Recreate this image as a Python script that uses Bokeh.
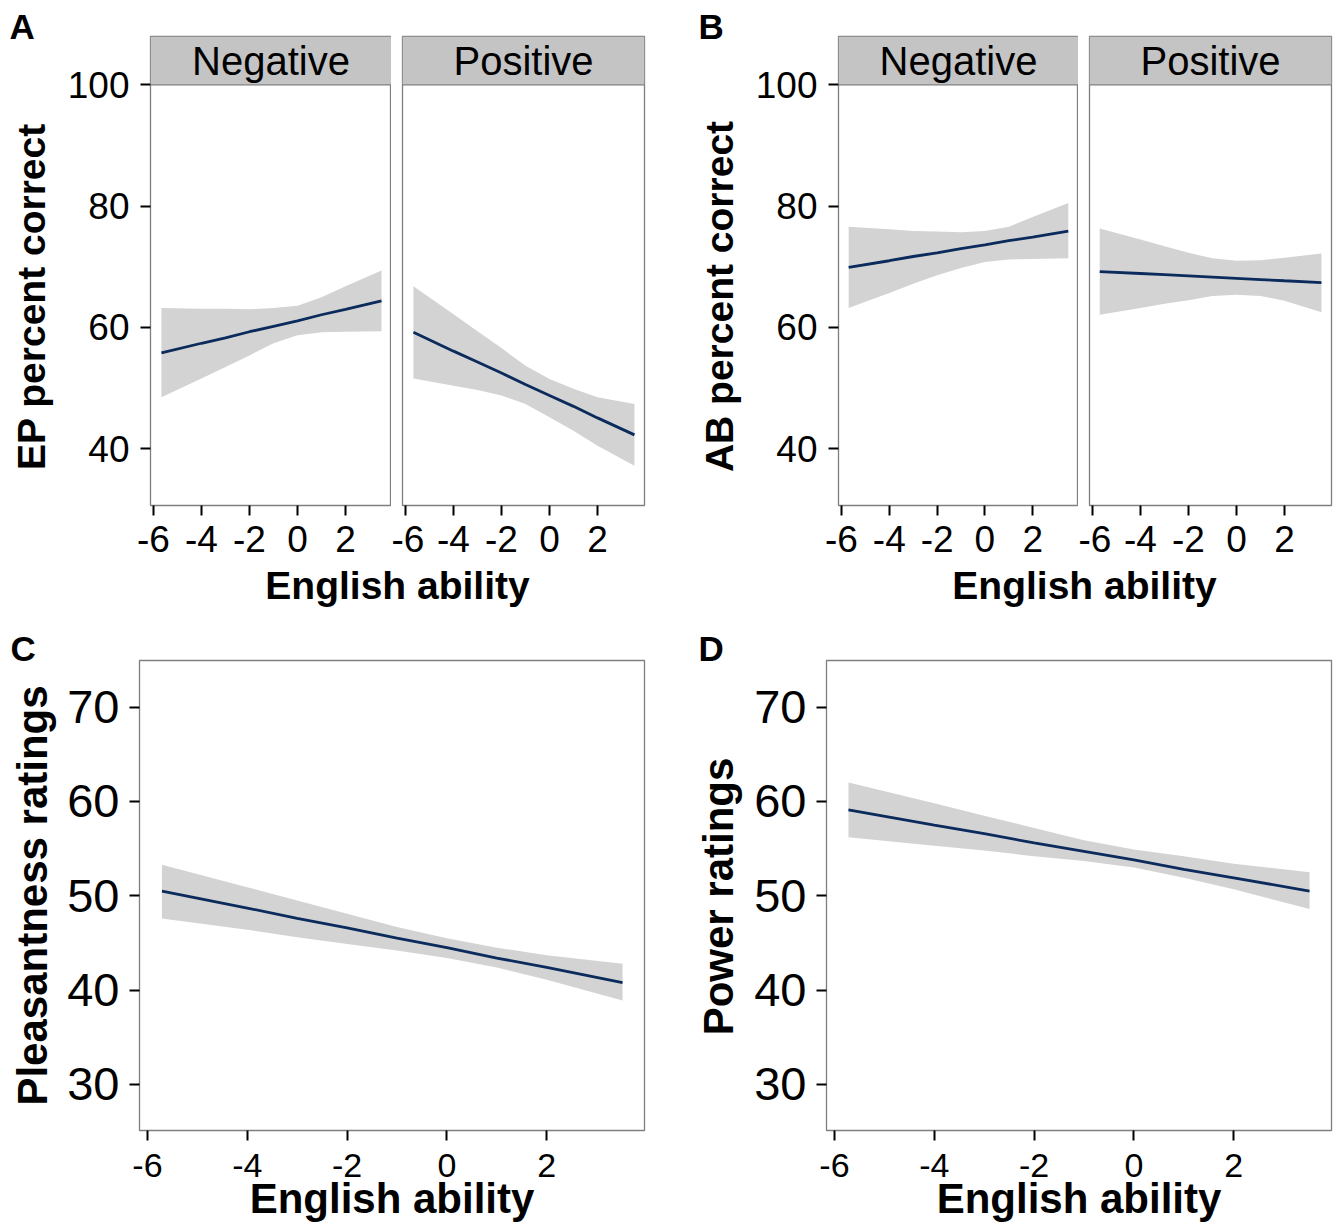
import math
from bokeh.plotting import figure
from bokeh.layouts import row, column
from bokeh.models import (Range1d, FixedTicker, Span, Label, BoxAnnotation,
                          CustomJSTickFormatter)
from bokeh.embed import file_html
from bokeh.resources import INLINE
from bokeh.core.properties import value

# ---------------- data ----------------
facet_names = ["Negative", "Positive"]
facet_x_ticks = [-6, -4, -2, 0, 2]
acc_y_ticks = [40, 60, 80, 100]
rating_x_ticks = [-6, -4, -2, 0, 2]
rating_y_ticks = [30, 40, 50, 60, 70]
x_title = "English ability"
panel_letters = ["A", "B", "C", "D"]
y_titles = ["EP percent correct", "AB percent correct",
            "Pleasantness ratings", "Power ratings"]

# Panel A: EP percent correct
ep_neg_x   = [-5.67, -4, -3, -2, -1, 0, 1, 2, 3.50]
ep_neg_fit = [55.8, 57.4, 58.3, 59.3, 60.2, 61.1, 62.1, 63.0, 64.4]
ep_neg_hi  = [63.2, 63.1, 63.1, 63.0, 63.2, 63.6, 65.0, 66.8, 69.4]
ep_neg_lo  = [48.5, 51.6, 53.5, 55.4, 57.4, 58.7, 59.2, 59.3, 59.4]

ep_pos_x   = [-5.67, -4, -3, -2, -1, 0, 1, 2, 3.54]
ep_pos_fit = [59.2, 56.1, 54.3, 52.5, 50.6, 48.8, 47.0, 45.1, 42.3]
ep_pos_hi  = [66.8, 62.2, 59.4, 56.6, 53.7, 51.5, 49.9, 48.5, 47.4]
ep_pos_lo  = [51.6, 50.4, 49.7, 48.8, 47.4, 45.2, 43.0, 40.5, 37.2]

# Panel B: AB percent correct
ab_neg_x   = [-5.70, -4, -3, -2, -1, 0, 1, 2, 3.49]
ab_neg_fit = [69.9, 71.0, 71.7, 72.3, 73.0, 73.6, 74.3, 74.9, 75.9]
ab_neg_hi  = [76.6, 76.2, 75.9, 75.8, 75.7, 75.9, 76.6, 78.2, 80.5]
ab_neg_lo  = [63.2, 65.7, 67.2, 68.6, 69.8, 70.8, 71.2, 71.3, 71.4]

ab_pos_x   = [-5.70, -4, -3, -2, -1, 0, 1, 2, 3.54]
ab_pos_fit = [69.2, 68.9, 68.7, 68.5, 68.3, 68.1, 67.9, 67.7, 67.4]
ab_pos_hi  = [76.3, 74.5, 73.4, 72.3, 71.4, 71.0, 71.1, 71.5, 72.2]
ab_pos_lo  = [62.1, 63.2, 63.9, 64.5, 65.2, 65.4, 65.2, 64.4, 62.5]

# Panel C: Pleasantness ratings
pl_x   = [-5.71, -4, -3, -2, -1, 0, 1, 2, 3.52]
pl_fit = [50.5, 48.7, 47.6, 46.6, 45.5, 44.5, 43.4, 42.4, 40.8]
pl_hi  = [53.3, 50.9, 49.5, 48.1, 46.7, 45.5, 44.5, 43.7, 42.8]
pl_lo  = [47.6, 46.4, 45.6, 44.9, 44.2, 43.4, 42.4, 41.1, 38.9]

# Panel D: Power ratings
pw_x   = [-5.72, -4, -3, -2, -1, 0, 1, 2, 3.52]
pw_fit = [59.1, 57.5, 56.6, 55.6, 54.7, 53.8, 52.8, 51.9, 50.5]
pw_hi  = [62.0, 59.8, 58.5, 57.2, 55.9, 54.9, 54.2, 53.4, 52.5]
pw_lo  = [56.2, 55.3, 54.8, 54.2, 53.7, 53.0, 51.9, 50.7, 48.6]

# ---------------- style / geometry ----------------
FONT = "Liberation Sans"
NAVY = "#0b2b5c"
BAND = "#d3d3d3"
STRIP = "#c4c4c4"
FRAME = "#7f7f7f"

F_TOP, F_H, F_BOT = 36, 469, 56      # facet figures
F_PX = 24.0
F_X0 = -6.125
ACC_Y1 = 107.96
ACC_Y0 = 30.66
XT_H = 50                            # x-title strip under facets
XT_CENTER = 585                      # page y of the x-title centre

FH = F_TOP + F_H + F_BOT
ROW2_Y = FH + XT_H                   # page y where the lower row starts

R_H, R_BOT = 470, 95                 # rating figures
R_TOP = 660 - ROW2_Y
R_X0, R_X1 = -6.16, 3.96
R_Y0, R_Y1 = 25.11, 74.95
RH = R_TOP + R_H + R_BOT

hyphen_fmt = "return String(tick);"


def base_axes(p, xsize, ysize, xstand, ystand):
    p.xgrid.visible = False
    p.ygrid.visible = False
    p.outline_line_color = FRAME
    p.outline_line_width = 1.3
    p.background_fill_color = "white"
    p.border_fill_color = "white"
    for ax in p.axis:
        ax.axis_line_color = None
        ax.major_tick_line_color = "black"
        ax.major_tick_line_width = 2
        ax.major_tick_out = 10
        ax.major_tick_in = 0
        ax.minor_tick_line_color = None
        ax.major_label_text_font = FONT
        ax.major_label_text_color = "black"
        ax.axis_label_text_font = FONT
        ax.axis_label_text_font_style = "bold"
        ax.axis_label_text_color = "black"
    for ax in p.xaxis:
        ax.major_label_text_font_size = xsize
        ax.major_label_standoff = xstand
        ax.formatter = CustomJSTickFormatter(code=hyphen_fmt)
    for ax in p.yaxis:
        ax.major_label_text_font_size = ysize
        ax.major_label_standoff = ystand


def facet(xs, fit, lo, hi, name, bl, fw, br, with_y):
    x1 = F_X0 + fw / F_PX
    p = figure(width=bl + fw + br, height=FH,
               x_range=Range1d(F_X0, x1), y_range=Range1d(ACC_Y0, ACC_Y1),
               output_backend="svg", toolbar_location=None,
               min_border_left=bl, min_border_right=br,
               min_border_top=F_TOP, min_border_bottom=F_BOT,
               y_axis_location="left" if with_y else None)
    p.varea(x=xs, y1=lo, y2=hi, fill_color=BAND, fill_alpha=1.0)
    p.line(xs, fit, line_color=NAVY, line_width=2.8)
    p.xaxis.ticker = FixedTicker(ticks=facet_x_ticks)
    if with_y:
        p.yaxis.ticker = FixedTicker(ticks=acc_y_ticks)
    base_axes(p, "37px", "37px", 10, 11)
    # facet strip
    p.add_layout(BoxAnnotation(bottom=acc_y_ticks[-1], fill_color=STRIP, fill_alpha=1.0,
                               line_color=None))
    p.add_layout(Span(location=acc_y_ticks[-1], dimension="width",
                      line_color=FRAME, line_width=1.3))
    p.add_layout(Label(x=(F_X0 + x1) / 2, y=(acc_y_ticks[-1] + ACC_Y1) / 2, text=name,
                       text_align="center", text_baseline="middle",
                       text_font=FONT, text_font_size="40px", text_color="black"))
    return p


def blank_fig(w, h, bl=0, br=0):
    p = figure(width=w, height=h, x_range=Range1d(0, w - bl - br), y_range=Range1d(0, h),
               output_backend="svg", toolbar_location=None,
               min_border_left=bl, min_border_right=br,
               min_border_top=0, min_border_bottom=0,
               x_axis_location=None, y_axis_location=None)
    p.outline_line_color = None
    p.xgrid.visible = False
    p.ygrid.visible = False
    p.background_fill_color = None
    p.border_fill_color = None
    return p


def xtitle_fig(bl, fw, br):
    p = blank_fig(bl + fw + br, XT_H, bl, br)
    p.text(x=[fw / 2], y=[XT_H - (XT_CENTER - FH)], text=[x_title], text_font=value(FONT),
           text_font_style="bold", text_font_size="39px",
           text_align="center", text_baseline="middle", text_color="black")
    return p


def side_fig(w, h, top_y, letter, lx, ly_page, title, tx, ty_page, tsize):
    p = blank_fig(w, h)
    p.text(x=[lx], y=[h - (ly_page - top_y)], text=[letter], text_font=value(FONT),
           text_font_style="bold", text_font_size="35px",
           text_align="left", text_baseline="middle", text_color="black")
    p.text(x=[tx], y=[h - (ty_page - top_y)], text=[title], angle=math.pi / 2,
           text_font=value(FONT), text_font_style="bold", text_font_size=tsize,
           text_align="center", text_baseline="middle", text_color="black")
    return p


def rating_fig(xs, fit, lo, hi, bl, br):
    fw = 505
    p = figure(width=bl + fw + br, height=RH,
               x_range=Range1d(R_X0, R_X1), y_range=Range1d(R_Y0, R_Y1),
               output_backend="svg", toolbar_location=None,
               min_border_left=bl, min_border_right=br,
               min_border_top=R_TOP, min_border_bottom=R_BOT)
    p.varea(x=xs, y1=lo, y2=hi, fill_color=BAND, fill_alpha=1.0)
    p.line(xs, fit, line_color=NAVY, line_width=2.8)
    p.xaxis.ticker = FixedTicker(ticks=rating_x_ticks)
    p.yaxis.ticker = FixedTicker(ticks=rating_y_ticks)
    base_axes(p, "34px", "47px", 13, 10)
    p.xaxis.axis_label = x_title
    p.xaxis.axis_label_text_font_size = "42px"
    p.xaxis.axis_label_standoff = -5
    return p


# ---- top row: panels A and B ----
sideA = side_fig(64, FH, 0, panel_letters[0], 9, 26, y_titles[0], 31, 296, "39px")
pA_neg = facet(ep_neg_x, ep_neg_fit, ep_neg_lo, ep_neg_hi, facet_names[0], 86, 241, 0, True)
pA_pos = facet(ep_pos_x, ep_pos_fit, ep_pos_lo, ep_pos_hi, facet_names[1], 11, 242, 8, False)
pA_xt = xtitle_fig(86, 494, 8)

sideB = side_fig(100, FH, 0, panel_letters[1], 46, 26, y_titles[1], 67, 296, "39px")
pB_neg = facet(ab_neg_x, ab_neg_fit, ab_neg_lo, ab_neg_hi, facet_names[0], 85, 241, 0, True)
pB_pos = facet(ab_pos_x, ab_pos_fit, ab_pos_lo, ab_pos_hi, facet_names[1], 11, 242, 5, False)
pB_xt = xtitle_fig(85, 494, 5)

# ---- bottom row: panels C and D ----
sideC = side_fig(62, RH, ROW2_Y, panel_letters[2], 10, 648, y_titles[2], 32, 895, "42px")
pC = rating_fig(pl_x, pl_fit, pl_lo, pl_hi, 77, 8)
sideD = side_fig(98, RH, ROW2_Y, panel_letters[3], 46, 648, y_titles[3], 66, 896, "42px")
pD = rating_fig(pw_x, pw_fit, pw_lo, pw_hi, 76, 5)

top = row(column(sideA), column(row(pA_neg, pA_pos), pA_xt),
          column(sideB), column(row(pB_neg, pB_pos), pB_xt))
bottom = row(column(sideC), column(pC), column(sideD), column(pD))
layout = column(top, bottom)

open("out.html", "w").write(file_html(layout, INLINE))
